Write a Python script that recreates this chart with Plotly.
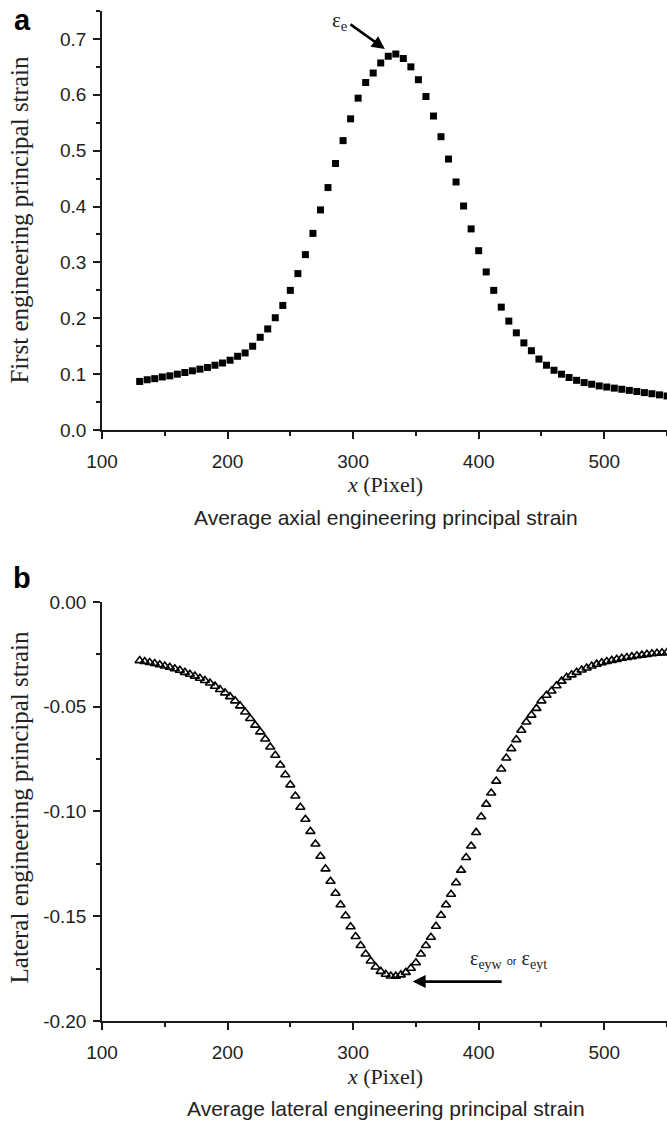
import plotly.graph_objects as go

# Panel a: average axial (first) engineering principal strain
axial_x = [130, 136, 142, 148, 154, 160, 166, 172, 178, 184, 190, 196, 202, 208,
           214, 220, 226, 232, 238, 244, 250, 256, 262, 268, 274, 280, 286, 292,
           298, 304, 310, 316, 322, 328, 334, 340, 346, 352, 358, 364, 370, 376,
           382, 388, 394, 400, 406, 412, 418, 424, 430, 436, 442, 448, 454, 460,
           466, 472, 478, 484, 490, 496, 502, 508, 514, 520, 526, 532, 538, 544, 550]
axial_strain = [0.087, 0.090, 0.092, 0.095, 0.097, 0.100, 0.103, 0.106, 0.109, 0.112,
                0.116, 0.120, 0.125, 0.132, 0.138, 0.150, 0.166, 0.181, 0.201, 0.223,
                0.250, 0.280, 0.314, 0.352, 0.394, 0.434, 0.477, 0.518, 0.557, 0.594,
                0.622, 0.639, 0.657, 0.669, 0.673, 0.665, 0.650, 0.627, 0.597, 0.562,
                0.525, 0.485, 0.444, 0.401, 0.360, 0.321, 0.283, 0.250, 0.220, 0.195,
                0.174, 0.156, 0.142, 0.127, 0.116, 0.107, 0.100, 0.094, 0.089, 0.085,
                0.082, 0.079, 0.077, 0.075, 0.073, 0.071, 0.069, 0.067, 0.065, 0.063,
                0.061]

# Panel b: average lateral engineering principal strain
lateral_x = [130, 134, 138, 142, 146, 150, 154, 158, 162, 166, 170, 174, 178, 182,
             186, 190, 194, 198, 202, 206, 210, 214, 218, 222, 226, 230, 234, 238,
             242, 246, 250, 254, 258, 262, 266, 270, 274, 278, 282, 286, 290, 294,
             298, 302, 306, 310, 314, 318, 322, 326, 330, 334, 338, 342, 346, 350,
             354, 358, 362, 366, 370, 374, 378, 382, 386, 390, 394, 398, 402, 406,
             410, 414, 418, 422, 426, 430, 434, 438, 442, 446, 450, 454, 458, 462,
             466, 470, 474, 478, 482, 486, 490, 494, 498, 502, 506, 510, 514, 518,
             522, 526, 530, 534, 538, 542, 546, 550]
lateral_strain = [-0.0280, -0.0284, -0.0289, -0.0294, -0.0300, -0.0306, -0.0312, -0.0319,
                  -0.0326, -0.0336, -0.0345, -0.0354, -0.0364, -0.0375, -0.0387, -0.0402,
                  -0.0418, -0.0434, -0.0452, -0.0472, -0.0496, -0.0525, -0.0556, -0.0588,
                  -0.0620, -0.0654, -0.0692, -0.0732, -0.0778, -0.0825, -0.0873, -0.0926,
                  -0.0980, -0.1037, -0.1095, -0.1155, -0.1214, -0.1274, -0.1333, -0.1390,
                  -0.1445, -0.1498, -0.1550, -0.1597, -0.1640, -0.1680, -0.1714, -0.1742,
                  -0.1763, -0.1777, -0.1785, -0.1786, -0.1780, -0.1768, -0.1748, -0.1722,
                  -0.1680, -0.1640, -0.1600, -0.1548, -0.1495, -0.1445, -0.1395, -0.1340,
                  -0.1280, -0.1220, -0.1165, -0.1100, -0.1025, -0.0965, -0.0912, -0.0855,
                  -0.0797, -0.0745, -0.0700, -0.0657, -0.0612, -0.0573, -0.0540, -0.0508,
                  -0.0472, -0.0445, -0.0425, -0.0400, -0.0378, -0.0360, -0.0348, -0.0336,
                  -0.0325, -0.0315, -0.0306, -0.0297, -0.0290, -0.0284, -0.0279, -0.0274,
                  -0.0269, -0.0265, -0.0261, -0.0257, -0.0254, -0.0250, -0.0247, -0.0245,
                  -0.0243, -0.0241]

x_ticks = [100, 200, 300, 400, 500]
x_ticklabels = ["100", "200", "300", "400", "500"]
axial_ticks = [0.0, 0.1, 0.2, 0.3, 0.4, 0.5, 0.6, 0.7]
axial_ticklabels = ["0.0", "0.1", "0.2", "0.3", "0.4", "0.5", "0.6", "0.7"]
lateral_ticks = [0.0, -0.05, -0.10, -0.15, -0.20]
lateral_ticklabels = ["0.00", "-0.05", "-0.10", "-0.15", "-0.20"]

# Arrow end points (data coordinates)
peak_arrow = dict(tail=(296.7, 0.728), head=(325.3, 0.682), label=(289.5, 0.733))
min_arrow = dict(tail=(419.5, -0.1812), head=(347.4, -0.1812), label=(424.0, -0.1705))

SANS = "Arial, Liberation Sans, sans-serif"
SERIF = "Times New Roman, Liberation Serif, serif"
INK = "#1a1a1a"

fig = go.Figure()
fig.add_trace(go.Scatter(
    x=axial_x, y=axial_strain, mode="markers", xaxis="x", yaxis="y",
    marker=dict(symbol="square", size=7, color="black", line=dict(width=0)),
    showlegend=False, hoverinfo="x+y"))
fig.add_trace(go.Scatter(
    x=lateral_x, y=lateral_strain, mode="markers", xaxis="x2", yaxis="y2",
    marker=dict(symbol="triangle-up-open", size=8, color="black",
                line=dict(width=1.6, color="black")),
    showlegend=False, hoverinfo="x+y"))

common_axis = dict(
    showgrid=False, zeroline=False, showline=True, linecolor=INK, linewidth=1.5,
    ticks="outside", ticklen=7, tickwidth=1.5, tickcolor=INK,
    tickfont=dict(family=SANS, size=19, color="#222"),
    minor=dict(ticks="outside", ticklen=4, tickwidth=1.5, tickcolor=INK),
)

fig.update_layout(
    width=667, height=1121,
    margin=dict(l=102, r=0, t=11, b=100),
    paper_bgcolor="white", plot_bgcolor="white",
    xaxis=dict(common_axis, domain=[0, 1], anchor="y", range=[100, 550],
               tickvals=x_ticks, ticktext=x_ticklabels, ticklabelstandoff=6,
               minor=dict(common_axis["minor"], dtick=50, tick0=50)),
    yaxis=dict(common_axis, domain=[0.5851, 1.0], anchor="x", range=[0, 0.75],
               tickvals=axial_ticks, ticktext=axial_ticklabels, ticklabelstandoff=3,
               minor=dict(common_axis["minor"], dtick=0.05, tick0=0)),
    xaxis2=dict(common_axis, domain=[0, 1], anchor="y2", range=[100, 550],
                tickvals=x_ticks, ticktext=x_ticklabels, ticklabelstandoff=6,
                minor=dict(common_axis["minor"], dtick=50, tick0=50)),
    yaxis2=dict(common_axis, domain=[0.0, 0.4149], anchor="x2", range=[-0.2, 0.0],
                tickvals=lateral_ticks, ticktext=lateral_ticklabels, ticklabelstandoff=3,
                minor=dict(common_axis["minor"], dtick=0.025, tick0=0)),
)

annotations = [
    # panel letters
    dict(text="<b>a</b>", x=-0.141, y=0.991, font=dict(family=SANS, size=29, color="black")),
    dict(text="<b>b</b>", x=-0.141, y=0.4386, font=dict(family=SANS, size=29, color="black")),
    # x-axis titles
    dict(text="<i>x</i> (Pixel)", x=0.501, y=0.531, font=dict(family=SERIF, size=22, color="#222")),
    dict(text="<i>x</i> (Pixel)", x=0.501, y=-0.0554, font=dict(family=SERIF, size=22, color="#222")),
    # captions
    dict(text="Average axial engineering principal strain", x=0.503, y=0.499,
         font=dict(family=SANS, size=21, color="#222")),
    dict(text="Average lateral engineering principal strain", x=0.503, y=-0.0862,
         font=dict(family=SANS, size=21, color="#222")),
    # y-axis titles
    dict(text="First engineering principal strain", x=-0.146, y=0.793, textangle=-90,
         font=dict(family=SERIF, size=25, color="#222")),
    dict(text="Lateral engineering principal strain", x=-0.146, y=0.211, textangle=-90,
         font=dict(family=SERIF, size=25, color="#222")),
]
for a in annotations:
    a.update(xref="paper", yref="paper", showarrow=False, xanchor="center", yanchor="middle")

# peak marker and arrow (panel a)
annotations.append(dict(
    xref="x", yref="y", x=peak_arrow["label"][0], y=peak_arrow["label"][1],
    text="ε<sub>e</sub>", showarrow=False,
    font=dict(family=SERIF, size=21, color="#222")))
annotations.append(dict(
    xref="x", yref="y", axref="x", ayref="y",
    x=peak_arrow["head"][0], y=peak_arrow["head"][1],
    ax=peak_arrow["tail"][0], ay=peak_arrow["tail"][1],
    text="", showarrow=True, arrowhead=2, arrowsize=1.0, arrowwidth=2.6, arrowcolor="black"))

# minimum marker and arrow (panel b)
annotations.append(dict(
    xref="x2", yref="y2", x=min_arrow["label"][0], y=min_arrow["label"][1],
    text="ε<sub>eyw</sub> <span style='font-family:Arial;font-size:11px'>or</span> ε<sub>eyt</sub>",
    showarrow=False, font=dict(family=SERIF, size=20, color="#222")))
annotations.append(dict(
    xref="x2", yref="y2", axref="x2", ayref="y2",
    x=min_arrow["head"][0], y=min_arrow["head"][1],
    ax=min_arrow["tail"][0], ay=min_arrow["tail"][1],
    text="", showarrow=True, arrowhead=2, arrowsize=1.0, arrowwidth=2.6, arrowcolor="black"))

fig.update_layout(annotations=annotations)
fig.write_html("out.html")
